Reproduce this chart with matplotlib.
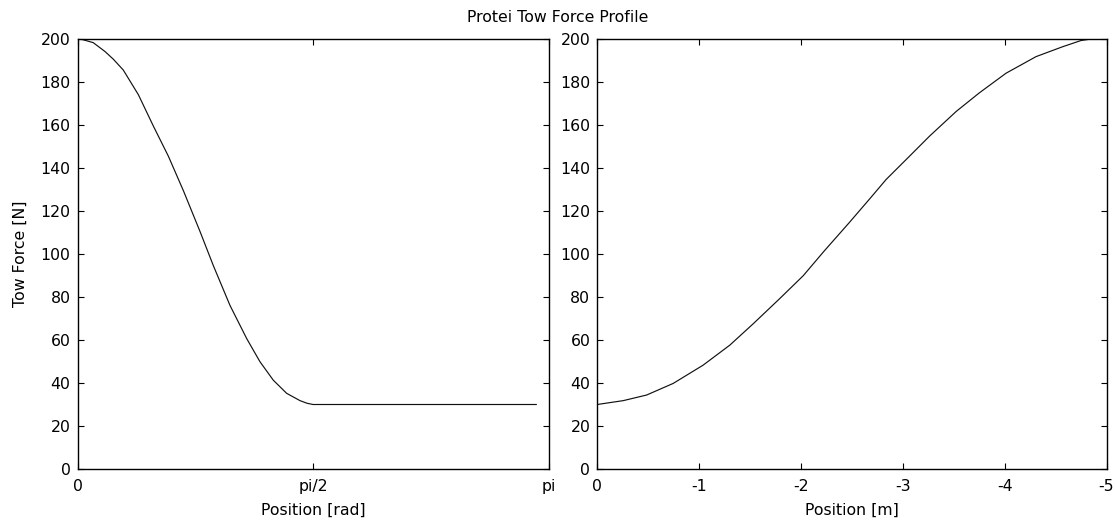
import matplotlib
matplotlib.use("Agg")
import matplotlib.pyplot as plt
import numpy as np

# ---- data ----
left_x = [0, 0.03, 0.105, 0.183, 0.239, 0.305, 0.406, 0.506, 0.606, 0.706,
          0.817, 0.906, 1.017, 1.129, 1.217, 1.306, 1.395, 1.484, 1.53, 1.571, 3.06]
left_y = [200, 199.8, 198.3, 194.2, 190.6, 185.6, 174.1, 159.5, 145.5, 129.5,
          110.5, 94.6, 76.1, 60.6, 49.9, 41.3, 35.2, 31.8, 30.6, 30, 30]

right_x = [0, -0.141, -0.255, -0.484, -0.745, -1.039, -1.301, -1.532, -1.79, -2.022,
           -2.23, -2.476, -2.672, -2.837, -3.066, -3.262, -3.524, -3.75, -4.014,
           -4.308, -4.569, -4.75, -4.85]
right_y = [30, 31.0, 31.8, 34.4, 39.8, 48.3, 57.6, 67.6, 79.2, 89.9,
           101.5, 114.7, 125.5, 134.7, 145.5, 154.8, 166.3, 174.9, 184.1,
           191.8, 196.4, 199.3, 200]

left_ticks = [0, np.pi / 2, np.pi]
left_ticklabels = ["0", "pi/2", "pi"]
right_ticks = [0, -1, -2, -3, -4, -5]
right_ticklabels = ["0", "-1", "-2", "-3", "-4", "-5"]
y_ticks = list(range(0, 201, 20))

title = "Protei Tow Force Profile"
ylabel = "Tow Force [N]"
left_xlabel = "Position [rad]"
right_xlabel = "Position [m]"

plt.rcParams["font.family"] = ["DejaVu Sans"]
FS = 11.3

fig = plt.figure(figsize=(11.15, 5.24), dpi=100)
W, H = 1115, 524
top_px, bot_px = 39, 469
axL = fig.add_axes([77.5 / W, 1 - bot_px / H, (548.5 - 77.5) / W, (bot_px - top_px) / H])
axR = fig.add_axes([597.3 / W, 1 - bot_px / H, (1106.5 - 597.3) / W, (bot_px - top_px) / H])

axL.plot(left_x, left_y, color="#111111", lw=0.85)
axR.plot(right_x, right_y, color="#111111", lw=0.85)

for ax in (axL, axR):
    ax.set_ylim(0, 200)
    ax.set_yticks(y_ticks)
    ax.set_yticklabels([str(v) for v in y_ticks])
    ax.tick_params(direction="in", length=4, width=0.8, top=True, right=True,
                   labelsize=FS, colors="black")
    ax.tick_params(axis="x", pad=7.5)
    ax.tick_params(axis="y", pad=5)
    for s in ax.spines.values():
        s.set_linewidth(1.0)
        s.set_color("black")

axL.set_xlim(0, np.pi)
axL.set_xticks(left_ticks)
axL.set_xticklabels(left_ticklabels)
axR.set_xlim(0, -5)
axR.set_xticks(right_ticks)
axR.set_xticklabels(right_ticklabels)

axL.set_xlabel(left_xlabel, fontsize=FS)
axR.set_xlabel(right_xlabel, fontsize=FS)
axL.xaxis.set_label_coords(0.5, -0.078)
axR.xaxis.set_label_coords(0.5, -0.078)
axL.set_ylabel(ylabel, fontsize=FS)
axL.yaxis.set_label_coords(-0.106, 0.5)

fig.text(0.5, 1 - 17 / H, title, ha="center", va="center", fontsize=FS)

fig.savefig("out.png", dpi=100, facecolor="white")
